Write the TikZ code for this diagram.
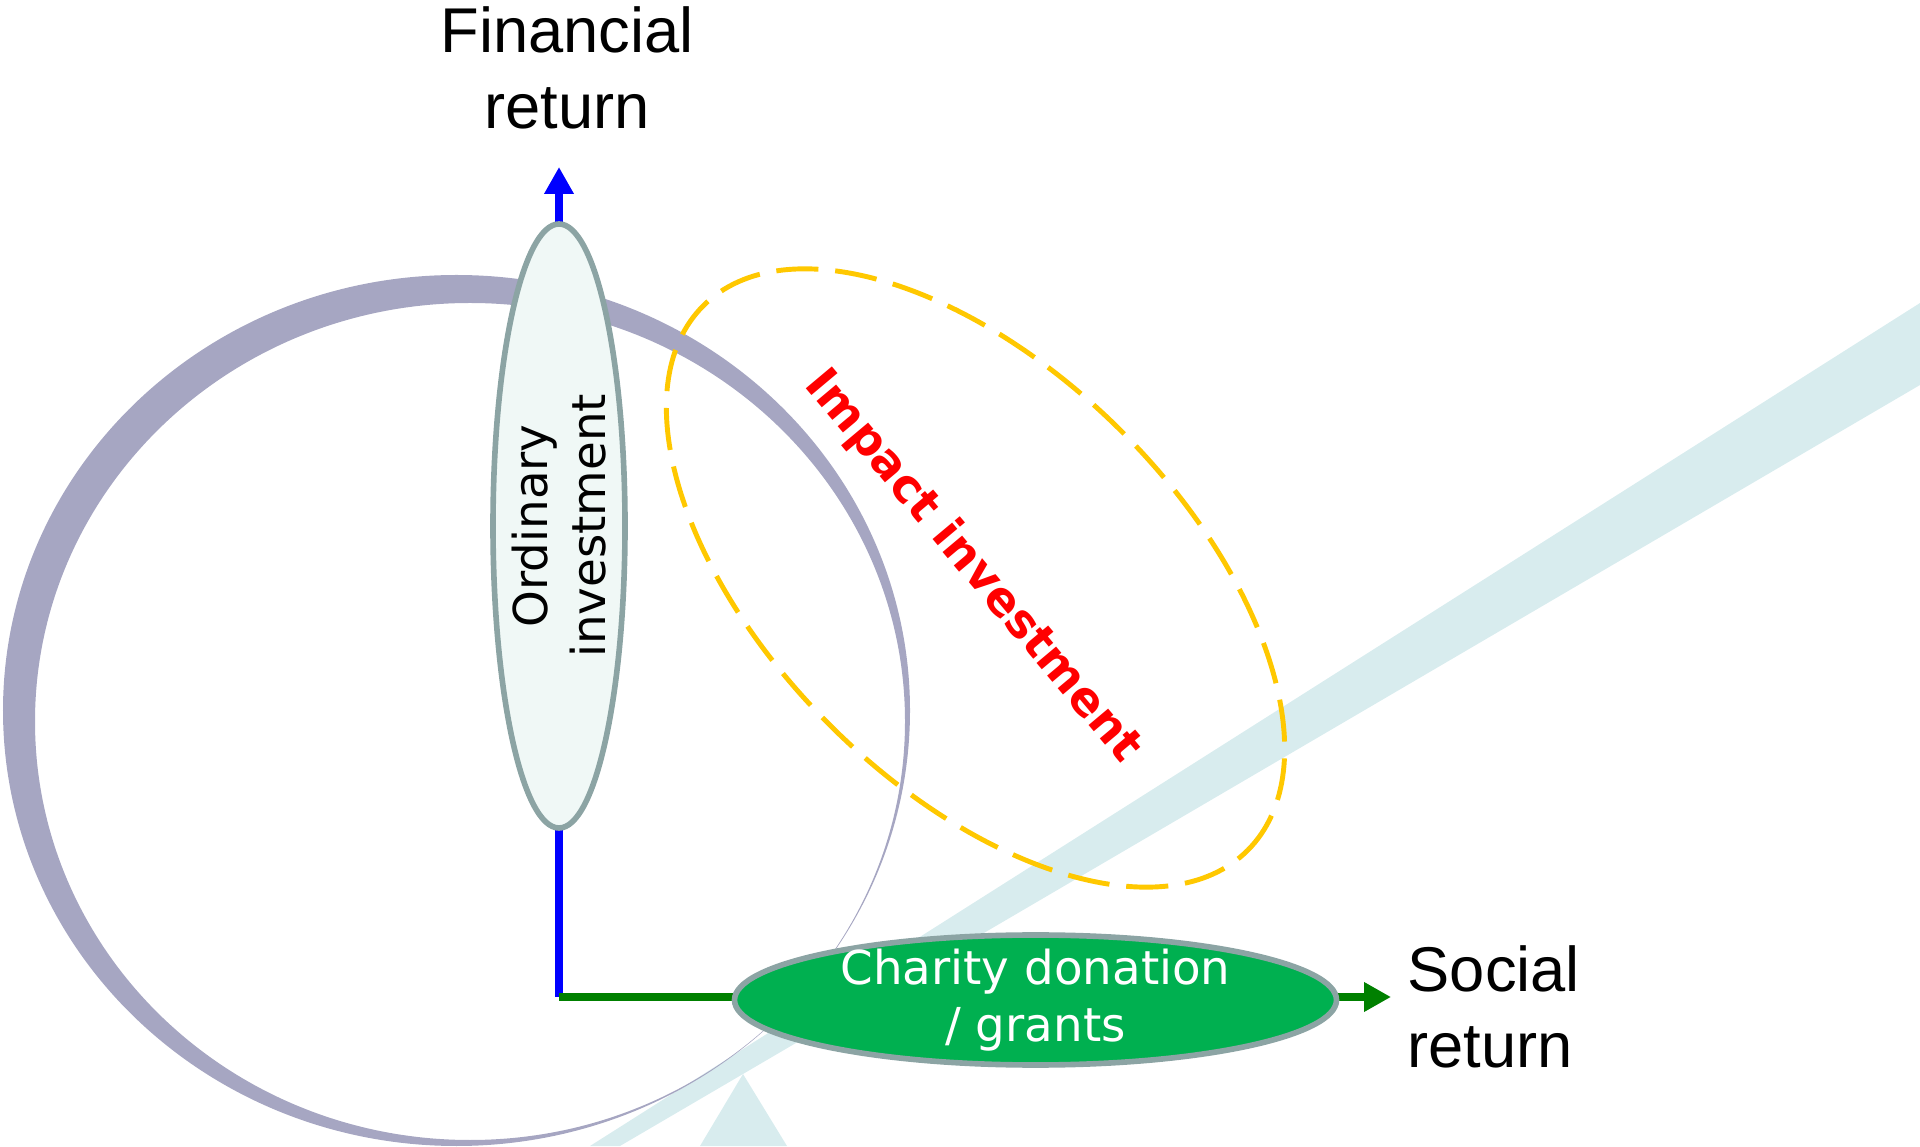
\documentclass[tikz,border=0pt]{standalone}
\usepackage{fontspec}
\setmainfont{Liberation Sans}
\newfontfamily\bubblefont{DejaVu Sans}
\usepackage{tikz}
\usetikzlibrary{positioning, arrows.meta, shapes.geometric}
\definecolor{ringgray}{RGB}{166,166,194}
\definecolor{bandblue}{RGB}{216,236,238}
\definecolor{ordfill}{RGB}{240,248,246}
\definecolor{bubbleedge}{RGB}{140,164,164}
\definecolor{charitygreen}{RGB}{0,176,80}
\definecolor{axisgreen}{RGB}{0,128,0}
\definecolor{impactyellow}{RGB}{255,200,0}
\tikzset{
    axisarrow/.style={line width=2.5pt, -{Triangle[length=0.27cm, width=0.28cm]}},
    bubble/.style={ellipse, draw=bubbleedge, line width=1.6pt, inner sep=0pt},
    bubbletext/.style={font=\bubblefont\fontsize{13.3}{16.3}\selectfont, align=center, inner sep=0pt},
    axislabel/.style={font=\fontsize{18}{21.8}\selectfont, inner sep=0pt},
}

\begin{document}
\begin{tikzpicture}
    \tikzset{
      node distance=0.2cm,
      impact/.style={ellipse, draw=impactyellow, line width=1.4pt, dash pattern=on 12pt off 4.8pt, inner sep=0pt}
    }
    \useasboundingbox (0,0) rectangle (19.2,11.46);

    \fill[bandblue] (19.2,8.43) -- (19.2,7.61) -- (6.20,0) -- (5.90,0) -- cycle;
    \fill[bandblue] (7.43,0.72) -- (7.87,0) -- (7.00,0) -- cycle;
    \fill[ringgray, even odd rule] (4.565,4.355) ellipse [x radius=4.535, y radius=4.355]
      (4.70,4.245) ellipse [x radius=4.35, y radius=4.185];

    \node[impact, rotate=-45, minimum width=7.7cm, minimum height=4.14cm] (impactzone) at (9.755,5.68) {};
    \node[font=\bubblefont\bfseries\fontsize{13.3}{16}\selectfont, text=red, rotate=-50] (impactlabel) at (9.726,5.79) {Impact investment};

    \coordinate (origin) at (5.59,1.49);
    \coordinate (fintip) at (5.59,9.79);
    \coordinate (soctip) at (13.91,1.49);

    \draw (origin) edge[axisarrow, blue] (fintip);
    \draw (origin) edge[axisarrow, axisgreen] (soctip);

    \node[bubble, fill=ordfill, minimum width=1.32cm, minimum height=6.04cm] (ordinary) at (5.59,6.20) {};
    \node[bubbletext, rotate=90] (ordinarylabel) at (ordinary) {Ordinary\\investment};

    \node[bubble, fill=charitygreen, minimum width=6.02cm, minimum height=1.30cm] (charity) at (10.355,1.46) {};
    \node[bubbletext, text=white] (charitylabel) at (charity) {Charity donation\\/ grants};

    \node[axislabel, align=center, above=0.37cm of fintip, xshift=0.08cm] (finlabel) {Financial\\return};
    \node[axislabel, align=left, right=0.16cm of soctip, yshift=-0.1cm] (soclabel) {Social\\return};
  \end{tikzpicture}
\end{document}
